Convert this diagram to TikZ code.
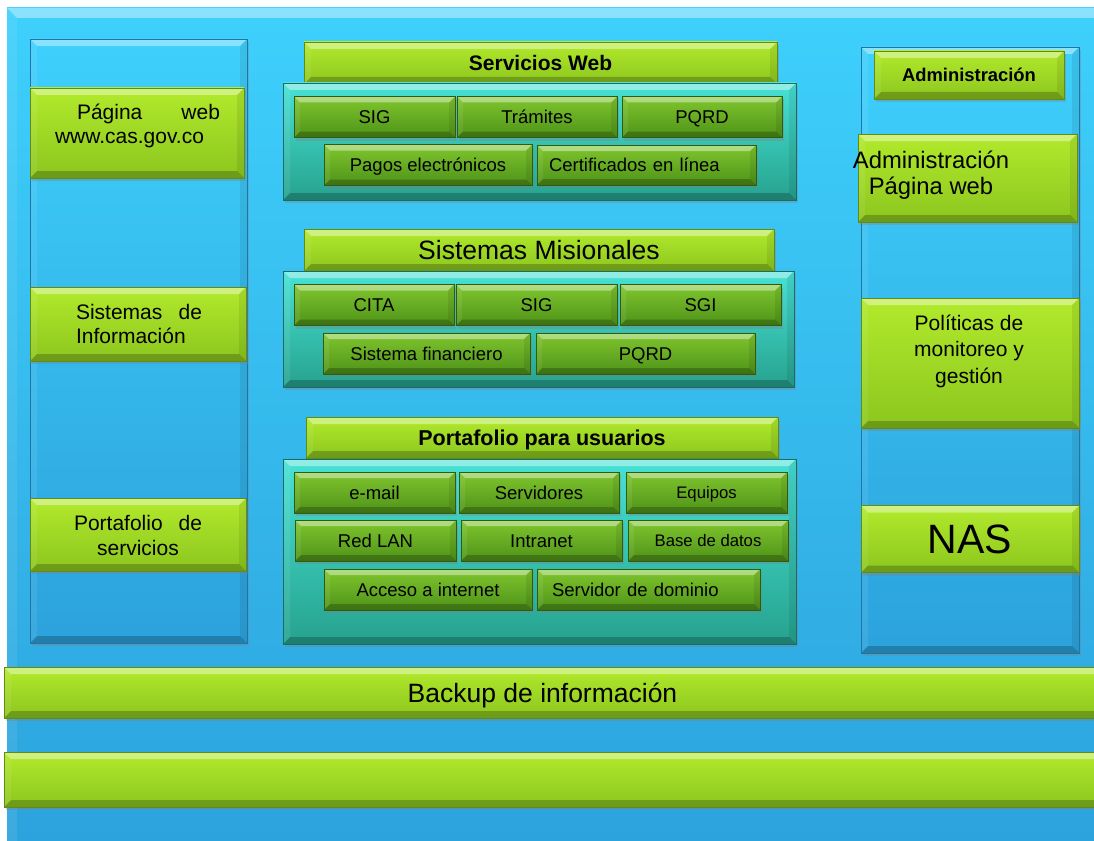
\documentclass[tikz,border=0pt]{standalone}
\usepackage{fontspec}
\setmainfont{Liberation Sans}
\usetikzlibrary{shadows}

\definecolor{bgtop}{RGB}{62,208,252}
\definecolor{bgbot}{RGB}{44,162,220}
\definecolor{coledge}{RGB}{30,118,168}
\definecolor{ltop}{RGB}{178,234,44}
\definecolor{lbot}{RGB}{140,198,30}
\definecolor{ledge}{RGB}{96,140,20}
\definecolor{dtop}{RGB}{128,198,46}
\definecolor{dbot}{RGB}{78,146,24}
\definecolor{dedge}{RGB}{46,92,18}
\definecolor{ttop}{RGB}{72,226,214}
\definecolor{tbot}{RGB}{38,162,142}
\definecolor{tedge}{RGB}{24,110,100}

\tikzset{
  bevel/.style={path picture={
    \fill[white,opacity=.4] (path picture bounding box.north west) -- (path picture bounding box.north east)
      -- ([shift={(-#1pt,-#1pt)}]path picture bounding box.north east) -- ([shift={(#1pt,-#1pt)}]path picture bounding box.north west) -- cycle;
    \fill[white,opacity=.08] (path picture bounding box.north west) -- ([shift={(#1pt,-#1pt)}]path picture bounding box.north west)
      -- ([shift={(#1pt,#1pt)}]path picture bounding box.south west) -- (path picture bounding box.south west) -- cycle;
    \fill[black,opacity=.22] (path picture bounding box.south west) -- (path picture bounding box.south east)
      -- ([shift={(-#1pt,#1pt)}]path picture bounding box.south east) -- ([shift={(#1pt,#1pt)}]path picture bounding box.south west) -- cycle;
    \fill[black,opacity=.08] (path picture bounding box.north east) -- ([shift={(-#1pt,-#1pt)}]path picture bounding box.north east)
      -- ([shift={(-#1pt,#1pt)}]path picture bounding box.south east) -- (path picture bounding box.south east) -- cycle;
  }},
  bevel/.default=6,
  shade/.style={drop shadow={opacity=.35, shadow xshift=2pt, shadow yshift=-3pt}},
  panel/.style={rectangle, top color=bgtop, bottom color=bgbot, bevel=10},
  column/.style={rectangle, top color=bgtop, bottom color=bgbot, draw=coledge, line width=.8pt, bevel=7, shade},
  lightbox/.style={rectangle, top color=ltop, bottom color=lbot, draw=ledge, line width=.6pt, bevel=7, shade},
  itembox/.style={rectangle, top color=dtop, bottom color=dbot, draw=dedge, line width=.6pt, bevel=6, shade,
    font=\fontsize{18.5}{20}\selectfont, text height=13.3pt, text depth=0pt},
  smallitem/.style={itembox, font=\fontsize{16.7}{18}\selectfont, text height=12pt},
  tealbox/.style={rectangle, top color=ttop, bottom color=tbot, draw=tedge, line width=.6pt, bevel=7, shade},
}

\begin{document}
\begin{tikzpicture}[x=1pt, y=-1pt, every node/.style={inner sep=0pt, outer sep=0pt}]
\useasboundingbox (0,0) rectangle (1094,840);
\fill[white] (0,0) rectangle (1094,840);
% Background panel
\node[panel, minimum width=1100pt, minimum height=850pt] (bg) at (557,433) {};

% Left column
\node[column, minimum width=217pt, minimum height=604pt] (lcol) at (138.5,341) {};
\node[lightbox, minimum width=214pt, minimum height=90pt] (lweb) at (137,133) {};
\node[lightbox, minimum width=216pt, minimum height=74pt] (lsis) at (138,324) {};
\node[lightbox, minimum width=216pt, minimum height=73pt] (lport) at (138,534.5) {};
\node[font=\fontsize{21}{23.5}\selectfont, text width=166pt, align=left] (lwebtxt) at (138,126)
  {\hspace*{22pt}\makebox[143pt]{Página\hfill web}\\www.cas.gov.co};
\node[font=\fontsize{21}{24}\selectfont, text width=127pt, align=left] (lsistxt) at (139.5,324)
  {\makebox[126pt]{Sistemas\hfill de}\\Información};
\node[font=\fontsize{21}{25}\selectfont, text width=128pt, align=center] (lporttxt) at (138,535)
  {\makebox[128pt]{Portafolio\hfill de}\\servicios};

% Right column
\node[column, minimum width=218pt, minimum height=606pt] (rcol) at (970,350) {};
\node[lightbox, minimum width=190pt, minimum height=48pt, font=\bfseries\fontsize{18.4}{20}\selectfont,
  text height=13.3pt, text depth=0pt] (radm) at (969,75) {Administración};
\node[lightbox, minimum width=219pt, minimum height=88pt] (rweb) at (967.5,178) {};
\node[lightbox, minimum width=218pt, minimum height=130pt] (rpol) at (970,363) {};
\node[lightbox, minimum width=218pt, minimum height=67pt, font=\fontsize{41}{44}\selectfont,
  text height=29.5pt, text depth=0pt] (rnas) at (970,539) {NAS};
\node[font=\fontsize{23.8}{26}\selectfont, align=center] (rwebtxt) at (931,175) {Administración\\Página web};
\node[font=\fontsize{21}{26.5}\selectfont, align=center] (rpoltxt) at (969,351) {Políticas de\\monitoreo y\\gestión};

% Servicios Web
\node[lightbox, minimum width=473pt, minimum height=42pt, font=\bfseries\fontsize{21}{23}\selectfont,
  text height=15pt, text depth=0pt] (hweb) at (540.5,63) {Servicios Web};
\node[tealbox, minimum width=513pt, minimum height=117pt] (cweb) at (539.5,141.5) {};
\foreach \nm/\cx/\cy/\w/\txt in {
  wsig/374.5/117/161/SIG,
  wtra/537/117/160/Trámites,
  wpqr/702/117/160/PQRD,
  wpag/428/165/208/Pagos electrónicos} {
  \node[itembox, minimum width=\w pt, minimum height=41pt] (\nm) at (\cx,\cy) {\txt};
}
\node[itembox, minimum width=219pt, minimum height=40pt, inner xsep=12pt, text width=195pt, align=left] (wcer) at (646.5,165) {Certificados en línea};

% Sistemas Misionales
\node[lightbox, minimum width=470pt, minimum height=42pt, font=\fontsize{26.5}{28}\selectfont,
  text height=19pt, text depth=0pt] (hmis) at (539,250) {Sistemas Misionales};
\node[tealbox, minimum width=511pt, minimum height=116pt] (cmis) at (538.5,329) {};
\foreach \nm/\cx/\cy/\w/\txt in {
  mcit/374/305/160/CITA,
  msig/536.5/305/161/SIG,
  msgi/700.5/305/161/SGI,
  mfin/426.5/353.5/207/Sistema financiero,
  mpqr/645.5/353.5/219/PQRD} {
  \node[itembox, minimum width=\w pt, minimum height=41pt] (\nm) at (\cx,\cy) {\txt};
}

% Portafolio para usuarios
\node[lightbox, minimum width=472pt, minimum height=41pt, font=\bfseries\fontsize{21.5}{23}\selectfont,
  text height=15.5pt, text depth=0pt] (hpor) at (542,437.5) {Portafolio para usuarios};
\node[tealbox, minimum width=513pt, minimum height=185pt] (cpor) at (539.5,551.5) {};
\foreach \nm/\cx/\cy/\w/\txt in {
  pmai/374.5/492.5/161/e-mail,
  pser/539/492.5/160/Servidores,
  plan/375.5/540.5/161/Red LAN,
  pint/541.5/540.5/161/Intranet,
  pacc/428/589.5/208/Acceso a internet} {
  \node[itembox, minimum width=\w pt, minimum height=41pt] (\nm) at (\cx,\cy) {\txt};
}
\node[smallitem, minimum width=161pt, minimum height=41pt] (pequ) at (706.5,492.5) {Equipos};
\node[smallitem, minimum width=160pt, minimum height=41pt] (pbas) at (708,540.5) {Base de datos};
\node[itembox, minimum width=223pt, minimum height=41pt, inner xsep=15pt, text width=193pt, align=left] (pdom) at (648.5,589.5) {Servidor de dominio};

% Bottom bars
\node[lightbox, minimum width=1110pt, minimum height=51pt] (bkp) at (559,692.5) {};
\node[font=\fontsize{26.5}{28}\selectfont, text height=19pt, text depth=0pt] (bkptxt) at (542.5,693) {Backup de información};
\node[lightbox, minimum width=1110pt, minimum height=55pt] (bar) at (559,779.5) {};
\end{tikzpicture}
\end{document}
